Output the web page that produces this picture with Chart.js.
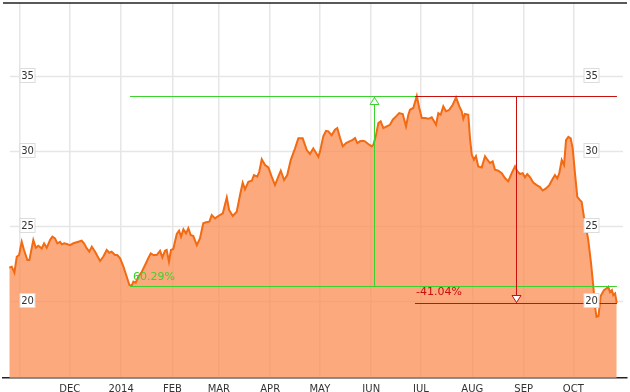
<!DOCTYPE html>
<html><head><meta charset="utf-8">
<style>html,body{margin:0;padding:0;background:#fff}canvas{display:block}</style>
<script src="https://cdn.jsdelivr.net/npm/chart.js@4/dist/chart.umd.min.js"></script>
</head><body>
<canvas id="c" width="630" height="392"></canvas>
<script>
// x values: days since 1 Nov 2013
const monthDays   = [0, 30, 61, 92, 120, 151, 181, 212, 242, 273, 304, 334];
const monthLabels = ['', 'DEC', '2014', 'FEB', 'MAR', 'APR', 'MAY', 'JUN', 'JUL', 'AUG', 'SEP', 'OCT'];
const yTickValues = [20, 25, 30, 35];

const days = [-6.5,-5.0,-3.4,-2.0,-0.6,1.0,2.4,4.4,5.6,8.0,9.5,11.0,13.1,14.5,16.1,18.1,19.5,21.1,22.5,24.1,
25.2,26.6,28.2,30.2,32.2,35.2,37.2,38.6,40.3,41.8,43.3,45.3,48.3,50.3,52.3,53.9,55.3,57.3,58.7,60.4,
62.4,64.4,66.0,67.4,68.4,69.8,71.4,73.5,75.5,77.4,78.9,80.5,82.5,84.5,85.9,87.5,88.5,89.9,91.1,92.5,
94.6,96.0,97.2,98.6,100.2,101.6,103.0,104.6,106.7,108.6,110.6,112.3,114.3,115.7,117.7,119.7,122.4,124.8,126.2,128.4,
130.8,132.8,134.4,135.8,137.8,139.9,141.2,143.2,144.4,145.9,147.9,149.9,151.9,153.9,155.9,157.4,159.4,161.3,163.4,166.0,
168.0,170.6,173.1,175.0,177.0,180.1,181.1,183.1,184.7,186.1,188.1,190.1,191.5,193.2,194.8,196.8,198.8,200.8,202.2,203.6,
205.2,206.9,208.2,210.2,212.3,213.3,214.9,216.3,217.7,219.3,221.3,223.3,225.0,227.0,228.9,231.0,233.0,234.4,235.4,237.4,
239.5,241.0,242.5,244.5,246.5,248.5,250.2,251.1,252.5,253.9,255.5,257.1,259.1,261.2,263.2,265.2,266.6,267.6,268.6,270.6,
271.6,272.7,274.0,275.2,276.6,278.7,280.7,282.1,283.7,285.3,286.7,288.7,290.8,292.7,294.7,296.8,298.8,300.2,301.8,303.4,
304.8,306.2,307.8,309.8,311.9,313.9,315.5,317.5,319.5,321.5,322.9,324.3,325.5,327.0,328.4,329.6,331.0,332.4,333.6,335.0,
336.4,338.0,339.0,340.4,341.6,343.0,344.7,346.1,347.1,348.0,349.2,350.5,352.5,354.1,355.1,356.1,357.3,358.1,359.2,360.2];

const prices = [22.20,22.27,21.87,22.93,23.05,23.93,23.38,22.71,22.71,24.05,23.53,23.67,23.49,23.83,23.53,24.05,24.27,24.16,23.83,23.93,
23.76,23.83,23.78,23.71,23.83,23.93,24.00,23.83,23.49,23.27,23.60,23.27,22.65,22.95,23.38,23.20,23.27,23.05,23.05,22.83,
22.27,21.60,21.05,21.00,21.27,21.20,21.60,21.93,22.38,22.83,23.16,23.05,23.05,23.33,22.89,23.33,23.38,22.60,23.38,23.45,
24.45,24.67,24.27,24.76,24.49,24.83,24.38,24.31,23.71,24.16,25.16,25.23,25.27,25.71,25.49,25.65,25.83,26.89,26.05,25.65,
25.93,27.05,27.87,27.43,27.93,28.00,28.38,28.27,28.60,29.43,29.05,28.89,28.27,27.71,28.27,28.67,28.05,28.38,29.38,30.16,
30.83,30.83,30.05,29.78,30.16,29.60,29.96,30.98,31.33,31.29,31.03,31.40,31.51,30.85,30.29,30.51,30.63,30.73,30.85,30.51,
30.63,30.67,30.63,30.45,30.29,30.40,31.07,31.85,31.96,31.51,31.63,31.73,32.07,32.29,32.51,32.45,31.63,32.40,32.73,32.85,
33.66,32.85,32.18,32.18,32.13,32.23,31.91,31.73,32.51,32.40,32.96,32.63,32.73,33.07,33.56,32.96,32.63,32.13,32.45,32.40,
30.85,29.73,29.40,29.63,28.96,28.89,29.63,29.40,29.18,29.29,28.73,28.67,28.51,28.18,27.96,28.51,28.96,28.63,28.45,28.51,
28.23,28.45,28.25,27.88,27.71,27.58,27.35,27.49,27.71,28.11,28.38,28.16,28.49,29.38,29.05,30.71,30.93,30.83,30.18,28.49,
26.93,26.71,26.60,25.60,24.93,24.05,22.49,20.93,19.60,18.93,18.98,20.31,20.71,20.83,20.93,20.58,20.71,20.38,20.49,19.85];

// Measurement annotations
const gainLow = 21.00, gainHigh = 33.66, gainFromDay = 66.4, gainToDay = 360.3, gainArrowDay = 213.7, gainTextDay = 68.2;
const gainText = '60.29%';
const dropHigh = 33.66, dropLow = 19.85, dropFromDay = 238.4, dropToDay = 360.3, dropArrowDay = 299.4, dropTextDay = 239.0;
const dropText = '-41.04%';

const GREEN = '#3cd22d', RED = '#c8100c';

function tri(ctx, x, y, dir, color) {
  ctx.save();
  ctx.strokeStyle = color; ctx.fillStyle = '#fff'; ctx.lineWidth = 1;
  ctx.beginPath();
  ctx.moveTo(x, y);
  ctx.lineTo(x - 4.5, y + dir * 7);
  ctx.lineTo(x + 4.5, y + dir * 7);
  ctx.closePath();
  ctx.fill(); ctx.stroke();
  ctx.restore();
}
function hline(ctx, x1, x2, y, color) {
  ctx.strokeStyle = color; ctx.lineWidth = 1;
  ctx.beginPath(); ctx.moveTo(x1, Math.round(y) + 0.5); ctx.lineTo(x2, Math.round(y) + 0.5); ctx.stroke();
}
function vline(ctx, x, y1, y2, color) {
  ctx.strokeStyle = color; ctx.lineWidth = 1;
  ctx.beginPath(); ctx.moveTo(Math.round(x) + 0.5, y1); ctx.lineTo(Math.round(x) + 0.5, y2); ctx.stroke();
}

const deco = {
  id: 'deco',
  beforeDraw(chart) {
    const c = chart.ctx;
    c.save(); c.fillStyle = '#fff'; c.fillRect(0, 0, chart.width, chart.height); c.restore();
  },
  beforeDatasetsDraw(chart) {
    const { ctx, chartArea: a, scales: { y } } = chart;
    ctx.save();
    ctx.strokeStyle = '#e6e6e6'; ctx.lineWidth = 1.5;
    yTickValues.forEach(v => {
      const py = Math.round(y.getPixelForValue(v)) + 0.5;
      ctx.beginPath(); ctx.moveTo(a.left + 7, py); ctx.lineTo(a.right - 4, py); ctx.stroke();
    });
    ctx.restore();
  },
  afterDatasetsDraw(chart) {
    const { ctx, chartArea: a, scales: { x, y } } = chart;
    ctx.save();
    // top border
    ctx.strokeStyle = '#222'; ctx.lineWidth = 1.5;
    ctx.beginPath(); ctx.moveTo(a.left, a.top); ctx.lineTo(a.right, a.top); ctx.stroke();

    // gain measurement (green)
    const gx1 = x.getPixelForValue(gainFromDay), gx2 = x.getPixelForValue(gainToDay);
    const gyl = y.getPixelForValue(gainLow), gyh = y.getPixelForValue(gainHigh);
    hline(ctx, gx1, gx2, gyh, GREEN);
    hline(ctx, gx1, gx2, gyl, GREEN);
    const gax = x.getPixelForValue(gainArrowDay);
    vline(ctx, gax, Math.round(gyh) + 1, Math.round(gyl), GREEN);
    tri(ctx, Math.round(gax) + 0.5, Math.round(gyh) + 1.5, 1, GREEN);
    ctx.fillStyle = GREEN; ctx.font = '11px "DejaVu Sans"'; ctx.textBaseline = 'bottom'; ctx.textAlign = 'left';
    ctx.fillText(gainText, x.getPixelForValue(gainTextDay), Math.round(gyl) - 3);

    // drop measurement (red)
    const rx1 = x.getPixelForValue(dropFromDay), rx2 = x.getPixelForValue(dropToDay);
    const ryh = y.getPixelForValue(dropHigh), ryl = y.getPixelForValue(dropLow);
    hline(ctx, rx1, rx2, ryh, RED);
    hline(ctx, rx1, rx2, ryl, RED);
    const rax = x.getPixelForValue(dropArrowDay);
    vline(ctx, rax, Math.round(ryh) + 1, Math.round(ryl), RED);
    tri(ctx, Math.round(rax) + 0.5, Math.round(ryl) - 0.5, -1, RED);
    ctx.fillStyle = RED;
    ctx.fillText(dropText, x.getPixelForValue(dropTextDay), Math.round(ryl) - 5);

    // y labels in boxes, both sides
    ctx.font = '10px "DejaVu Sans"'; ctx.textAlign = 'center'; ctx.textBaseline = 'middle';
    yTickValues.forEach(v => {
      const py = Math.round(y.getPixelForValue(v));
      [a.left + 24.5, a.right - 35.5].forEach(cx => {
        ctx.fillStyle = '#fff'; ctx.strokeStyle = '#dcdcdc'; ctx.lineWidth = 1;
        ctx.fillRect(cx - 7.5, py - 7.5, 15, 14);
        ctx.strokeRect(cx - 7.5, py - 7.5, 15, 14);
        ctx.fillStyle = '#333';
        ctx.fillText(String(v), cx, py);
      });
    });
    ctx.restore();
  }
};

new Chart(document.getElementById('c'), {
  type: 'line',
  data: {
    datasets: [{
      data: days.map((d, i) => ({ x: d, y: prices[i] })),
      borderColor: '#f26a12',
      borderWidth: 2,
      backgroundColor: 'rgba(251,142,82,0.75)',
      fill: 'start',
      pointRadius: 0,
      tension: 0
    }]
  },
  options: {
    responsive: false,
    animation: false,
    events: [],
    layout: { padding: { top: 3, right: 3, left: 3, bottom: 0 } },
    plugins: { legend: { display: false }, tooltip: { enabled: false } },
    scales: {
      x: {
        type: 'linear', min: -10.3, max: 366.4,
        afterBuildTicks: s => { s.ticks = monthDays.map(v => ({ value: v })); },
        afterFit: s => { s.height = 14; },
        ticks: {
          autoSkip: false, maxRotation: 0, padding: 5, color: '#333',
          font: { family: 'DejaVu Sans', size: 10 },
          callback: (v, i) => monthLabels[i]
        },
        grid: { color: '#e6e6e6', lineWidth: 1.5, drawTicks: false },
        border: { display: true, color: '#222', width: 1.5 }
      },
      y: { display: false, min: 14.85, max: 39.85 }
    }
  },
  plugins: [deco]
});
</script>
</body></html>
